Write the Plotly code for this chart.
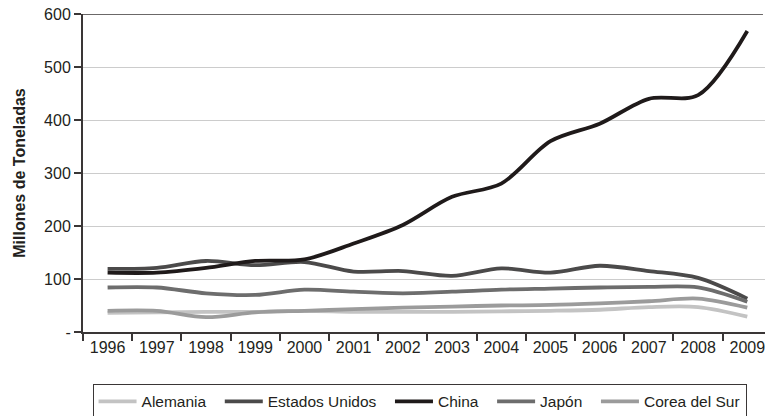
import plotly.graph_objects as go

years = ["1996", "1997", "1998", "1999", "2000", "2001", "2002",
         "2003", "2004", "2005", "2006", "2007", "2008", "2009"]

alemania = [36, 37, 38, 38, 40, 38, 38, 38, 39, 40, 42, 47, 47, 29]
estados_unidos = [119, 121, 134, 126, 132, 114, 115, 106, 120, 112, 125, 115, 102, 63]
china = [112, 112, 121, 134, 137, 167, 202, 255, 280, 360, 393, 440, 447, 568]
japon = [84, 84, 73, 70, 80, 76, 73, 76, 80, 82, 84, 85, 84, 57]
corea = [40, 40, 28, 37, 40, 43, 46, 48, 50, 51, 54, 58, 63, 46]

y_ticks = [0, 100, 200, 300, 400, 500, 600]
y_ticktext = ["-", "100", "200", "300", "400", "500", "600"]

series = [
    ("Alemania", alemania, "#c3c3c3"),
    ("Estados Unidos", estados_unidos, "#4b4a4a"),
    ("China", china, "#1f1a1a"),
    ("Japón", japon, "#6d6d6d"),
    ("Corea del Sur", corea, "#9b9b9b"),
]

FONT = "Liberation Sans, Arial, sans-serif"
DARK = "#3a3636"
PAD = "\u00a0\u00a0"

fig = go.Figure()
for i, (name, vals, color) in enumerate(series):
    fig.add_trace(go.Scatter(
        x=years, y=vals, mode="lines", name=name + (PAD if i < len(series) - 1 else ""),
        line=dict(color=color, width=3.8, shape="spline", smoothing=0.9),
        cliponaxis=False,
    ))

fig.add_shape(type="line", xref="paper", yref="y", x0=0, x1=0.997, y0=600, y1=600,
              line=dict(color=DARK, width=1.5), layer="below")

fig.update_layout(
    width=765, height=416,
    margin=dict(l=83, r=0, t=14, b=84, autoexpand=False),
    paper_bgcolor="white", plot_bgcolor="white",
    font=dict(family=FONT, size=16, color="#231f20"),
    showlegend=True,
    legend=dict(
        orientation="h", x=0.014, xanchor="left", y=-0.163, yanchor="top",
        bordercolor=DARK, borderwidth=1, bgcolor="white",
        font=dict(family=FONT, size=15.5, color="#231f20"),
        itemwidth=38, traceorder="normal",
    ),
    xaxis=dict(
        type="category", range=[-0.5, 13.36], automargin=False,
        tickson="boundaries", ticks="outside", ticklen=7, tickwidth=1.5, tickcolor=DARK,
        showline=True, linecolor=DARK, linewidth=1.5,
        showgrid=False, zeroline=False,
        tickfont=dict(family=FONT, size=16, color="#231f20"),
    ),
    yaxis=dict(
        range=[0, 600], tickvals=y_ticks, ticktext=y_ticktext, automargin=False,
        ticks="outside", ticklen=7, tickwidth=1.5, tickcolor=DARK,
        showline=True, linecolor=DARK, linewidth=2,
        showgrid=True, gridcolor="#cccccc", gridwidth=1.3,
        zeroline=False,
        tickfont=dict(family=FONT, size=16, color="#231f20"),
        title=dict(text="<b>Millones de Toneladas</b>", standoff=14,
                   font=dict(family=FONT, size=16, color="#231f20")),
    ),
)

fig.write_html("out.html", config={"displayModeBar": False},
               post_script="document.body.style.margin='0';")
